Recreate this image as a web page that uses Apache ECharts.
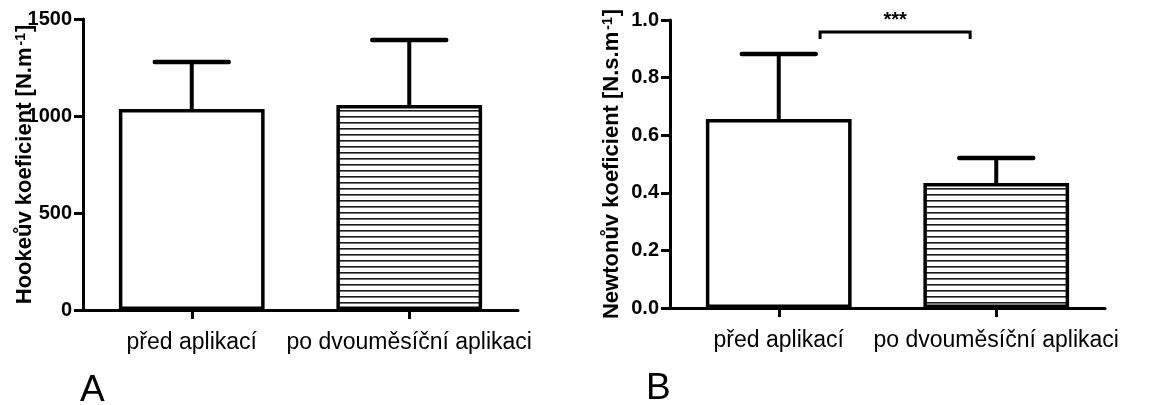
<!DOCTYPE html>
<html>
<head>
<meta charset="utf-8" />
<title>Hookeův a Newtonův koeficient</title>
<script src="https://cdn.jsdelivr.net/npm/echarts@6/dist/echarts.min.js"></script>
<style>
  html, body { margin: 0; padding: 0; background: #fff; }
  #chart { width: 1157px; height: 405px; }
</style>
</head>
<body>
<div id="chart"></div>
<script>
// data
var categories = ['před aplikací', 'po dvouměsíční aplikaci'];
var hookeMean = [1036, 1057];
var hookeUpper = [1278, 1392];
var newtonMean = [0.656, 0.434];
var newtonUpper = [0.882, 0.521];
var hookeTicks = { min: 0, max: 1500, interval: 500 };
var newtonTicks = { min: 0, max: 1.0, interval: 0.2 };
// significance bracket (category position from/to, value of bar, value of legs)
var sigBracket = [0.19, 0.88, 0.958, 0.934];
var sigText = '***';

var FONT = '"Liberation Sans", Arial, Helvetica, sans-serif';

// horizontal stripes for the second bar
var stripe = document.createElement('canvas');
stripe.width = 8; stripe.height = 6;
var sctx = stripe.getContext('2d');
sctx.fillStyle = '#fff';
sctx.fillRect(0, 0, 8, 6);
sctx.fillStyle = '#1a1a1a';
sctx.fillRect(0, 2, 8, 1.6);
var stripeFill = { image: stripe, repeat: 'repeat' };

function barData(vals) {
  return vals.map(function (v, i) {
    return {
      value: v,
      itemStyle: { color: i === 0 ? '#fff' : stripeFill, borderColor: '#000', borderWidth: 3.5 }
    };
  });
}

function errData(mean, upper) {
  return mean.map(function (m, i) { return [i, m, upper[i]]; });
}

function renderErr(params, api) {
  var x = api.value(0);
  var lo = api.coord([x, api.value(1)]);
  var hi = api.coord([x, api.value(2)]);
  var half = api.size([1, 0])[0] * 0.17;
  return {
    type: 'group',
    children: [
      { type: 'line', shape: { x1: lo[0], y1: lo[1], x2: hi[0], y2: hi[1] },
        style: { stroke: '#000', lineWidth: 4 } },
      { type: 'line', shape: { x1: hi[0] - half, y1: hi[1], x2: hi[0] + half, y2: hi[1] },
        style: { stroke: '#000', lineWidth: 4.5, lineCap: 'round' } }
    ]
  };
}

function renderSig(params, api) {
  var c0 = api.coord([0, sigBracket[2]]);
  var c1 = api.coord([1, sigBracket[2]]);
  var leg = api.coord([0, sigBracket[3]])[1];
  var xa = c0[0] + (c1[0] - c0[0]) * sigBracket[0];
  var xb = c0[0] + (c1[0] - c0[0]) * sigBracket[1];
  var y = c0[1];
  return {
    type: 'group',
    children: [
      { type: 'polyline', shape: { points: [[xa, leg], [xa, y], [xb, y], [xb, leg]] },
        style: { stroke: '#000', lineWidth: 3, fill: null } },
      { type: 'text', x: (xa + xb) / 2, y: y - 12,
        style: { text: sigText, font: 'bold 20px ' + FONT, fill: '#000', align: 'center', verticalAlign: 'middle' } }
    ]
  };
}

function yAxis(idx, ticks, name, fmt) {
  return {
    type: 'value',
    gridIndex: idx,
    min: ticks.min, max: ticks.max, interval: ticks.interval,
    splitLine: { show: false },
    axisLine: { show: true, lineStyle: { color: '#000', width: 3 } },
    axisTick: { show: true, length: 9, lineStyle: { color: '#000', width: 3 } },
    axisLabel: { margin: 11, color: '#000', fontSize: 20, fontWeight: 'bold', fontFamily: FONT, formatter: fmt },
    name: name,
    nameLocation: 'middle',
    nameRotate: 90,
    nameGap: 47,
    nameMoveOverlap: false,
    nameTextStyle: {
      color: '#000', fontFamily: FONT, fontWeight: 'bold', fontSize: 22,
      rich: {
        a: { fontSize: 22, fontWeight: 'bold', fontFamily: FONT, color: '#000' },
        s: { fontSize: 14, fontWeight: 'bold', fontFamily: FONT, color: '#000', verticalAlign: 'top', padding: [0, 1, 8, 2] }
      }
    }
  };
}

function xAxis(idx) {
  return {
    type: 'category',
    gridIndex: idx,
    data: categories,
    axisLine: { show: true, lineStyle: { color: '#000', width: 3 } },
    axisTick: { show: true, alignWithLabel: true, length: 9, lineStyle: { color: '#000', width: 3 } },
    axisLabel: { margin: 21, color: '#000', fontSize: 23, fontFamily: FONT, interval: 0 }
  };
}

var chart = echarts.init(document.getElementById('chart'), null, { renderer: 'canvas' });
chart.setOption({
  animation: false,
  backgroundColor: '#fff',
  grid: [
    { left: 83, top: 19, width: 435, height: 291, outerBoundsMode: 'none' },
    { left: 670, top: 20, width: 435, height: 288, outerBoundsMode: 'none' }
  ],
  xAxis: [xAxis(0), xAxis(1)],
  yAxis: [
    yAxis(0, hookeTicks, '{a|Hookeův koeficient [N.m}{s|-1}{a|]}', function (v) { return String(v); }),
    yAxis(1, newtonTicks, '{a|Newtonův koeficient [N.s.m}{s|-1}{a|]}', function (v) { return v.toFixed(1); })
  ],
  series: [
    { type: 'custom', xAxisIndex: 0, yAxisIndex: 0, data: errData(hookeMean, hookeUpper),
      encode: { x: 0, y: [1, 2] }, renderItem: renderErr, z: 1, silent: true },
    { type: 'bar', xAxisIndex: 0, yAxisIndex: 0, data: barData(hookeMean),
      barCategoryGap: '33%', z: 2, silent: true },
    { type: 'custom', xAxisIndex: 1, yAxisIndex: 1, data: errData(newtonMean, newtonUpper),
      encode: { x: 0, y: [1, 2] }, renderItem: renderErr, z: 1, silent: true },
    { type: 'bar', xAxisIndex: 1, yAxisIndex: 1, data: barData(newtonMean),
      barCategoryGap: '33%', z: 2, silent: true },
    { type: 'custom', xAxisIndex: 1, yAxisIndex: 1, data: [[0, sigBracket[2]]],
      encode: { x: 0, y: 1 }, renderItem: renderSig, clip: false, z: 3, silent: true }
  ],
  graphic: [
    { type: 'text', left: 80, top: 372, style: { text: 'A', font: '37px ' + FONT, fill: '#000' } },
    { type: 'text', left: 646, top: 370, style: { text: 'B', font: '37px ' + FONT, fill: '#000' } }
  ]
});
</script>
</body>
</html>
